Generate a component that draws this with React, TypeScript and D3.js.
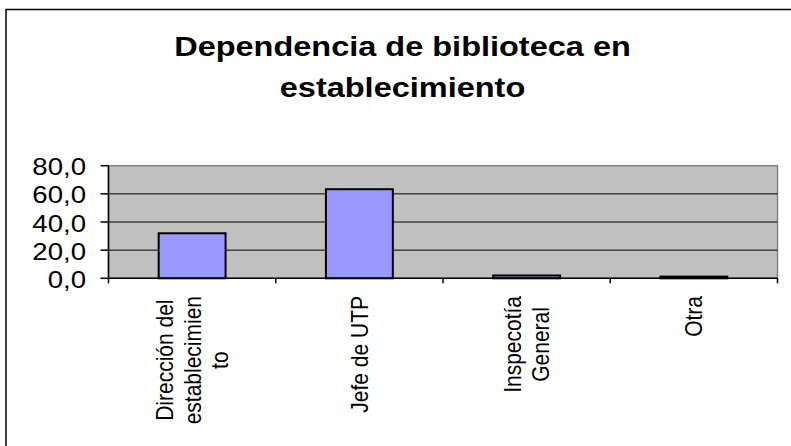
import React, { useEffect, useRef } from "react";
import * as d3 from "d3";

const categories: string[][] = [
  ["Dirección del", "establecimien", "to"],
  ["Jefe de UTP"],
  ["Inspecotía", "General"],
  ["Otra"],
];
const values: number[] = [32.0, 63.3, 2.0, 1.2];
const yTicks: number[] = [0, 20, 40, 60, 80];
const yTickLabels: string[] = ["0,0", "20,0", "40,0", "60,0", "80,0"];
const titleLines: string[] = ["Dependencia de biblioteca en", "establecimiento"];

const W = 791;
const H = 446;
const FONT = "'Liberation Sans', Arial, Helvetica, sans-serif";

export default function App() {
  const ref = useRef<SVGSVGElement>(null);

  useEffect(() => {
    const svg = d3.select(ref.current);
    svg.selectAll("*").remove();

    const left = 108.5, right = 777.5, top = 165.7, bottom = 278.3;

    // outer frame (only top and left visible)
    svg.append("rect").attr("x", 6).attr("y", 9.5).attr("width", 900).attr("height", 900)
      .attr("fill", "white").attr("stroke", "black").attr("stroke-width", 1.5);

    // title
    const titleY = [55.5, 97];
    titleLines.forEach((t, i) => {
      svg.append("text")
        .attr("transform", `translate(402.5,${titleY[i]}) scale(1.14,1)`)
        .attr("text-anchor", "middle")
        .attr("font-family", FONT)
        .attr("font-weight", "bold")
        .attr("font-size", 28.5)
        .attr("fill", "black")
        .text(t);
    });

    const x = d3.scaleBand<number>().domain(d3.range(categories.length)).range([left, right]).padding(0);
    const y = d3.scaleLinear().domain([0, 80]).range([bottom, top]);

    // plot area
    svg.append("rect").attr("x", left).attr("y", top).attr("width", right - left).attr("height", bottom - top)
      .attr("fill", "#C0C0C0").attr("stroke", "#808080").attr("stroke-width", 1.5);

    // gridlines
    yTicks.filter((t) => t > 0 && t < 80).forEach((t) => {
      svg.append("line").attr("x1", left).attr("x2", right).attr("y1", y(t)).attr("y2", y(t))
        .attr("stroke", "black").attr("stroke-width", 1);
    });

    // bars
    const bw = x.bandwidth() * 0.4;
    values.forEach((v, i) => {
      const cx = (x(i) as number) + x.bandwidth() / 2;
      svg.append("rect")
        .attr("x", cx - bw / 2)
        .attr("y", y(v))
        .attr("width", bw)
        .attr("height", y(0) - y(v))
        .attr("fill", "#9999FF")
        .attr("stroke", "black")
        .attr("stroke-width", 2);
    });

    // y axis
    svg.append("line").attr("x1", left).attr("x2", left).attr("y1", top).attr("y2", bottom)
      .attr("stroke", "black").attr("stroke-width", 1.5);
    yTicks.forEach((t, i) => {
      svg.append("line").attr("x1", left - 8).attr("x2", left).attr("y1", y(t)).attr("y2", y(t))
        .attr("stroke", "black").attr("stroke-width", 1.5);
      svg.append("text")
        .attr("transform", `translate(86,${y(t) + 9.5}) scale(1.2,1)`)
        .attr("text-anchor", "end")
        .attr("font-family", FONT)
        .attr("font-size", 23)
        .attr("fill", "black")
        .text(yTickLabels[i]);
    });

    // x axis
    svg.append("line").attr("x1", left).attr("x2", right).attr("y1", bottom).attr("y2", bottom)
      .attr("stroke", "black").attr("stroke-width", 1.5);
    const bounds = [...categories.map((_, i) => x(i) as number), right];
    bounds.forEach((bx) => {
      svg.append("line").attr("x1", bx).attr("x2", bx).attr("y1", bottom).attr("y2", bottom + 5)
        .attr("stroke", "black").attr("stroke-width", 1.5);
    });

    // category labels (rotated)
    const lineGap = 23.5;
    categories.forEach((lines, i) => {
      const cx = (x(i) as number) + x.bandwidth() / 2;
      const g = svg.append("g").attr("transform", `translate(${cx},296) scale(1.17,1) rotate(-90)`);
      const texts = lines.map((l, j) =>
        g.append("text")
          .attr("font-family", FONT)
          .attr("font-size", 21)
          .attr("fill", "black")
          .attr("text-anchor", "middle")
          .attr("dominant-baseline", "central")
          .attr("y", (j - (lines.length - 1) / 2) * lineGap)
          .text(l)
      );
      const maxLen = d3.max(texts, (t) => (t.node() as SVGTextElement).getComputedTextLength()) || 0;
      texts.forEach((t) => t.attr("x", -maxLen / 2));
    });
  }, []);

  return (
    <svg ref={ref} width={W} height={H} style={{ position: "absolute", left: 0, top: 0, background: "white" }} />
  );
}
